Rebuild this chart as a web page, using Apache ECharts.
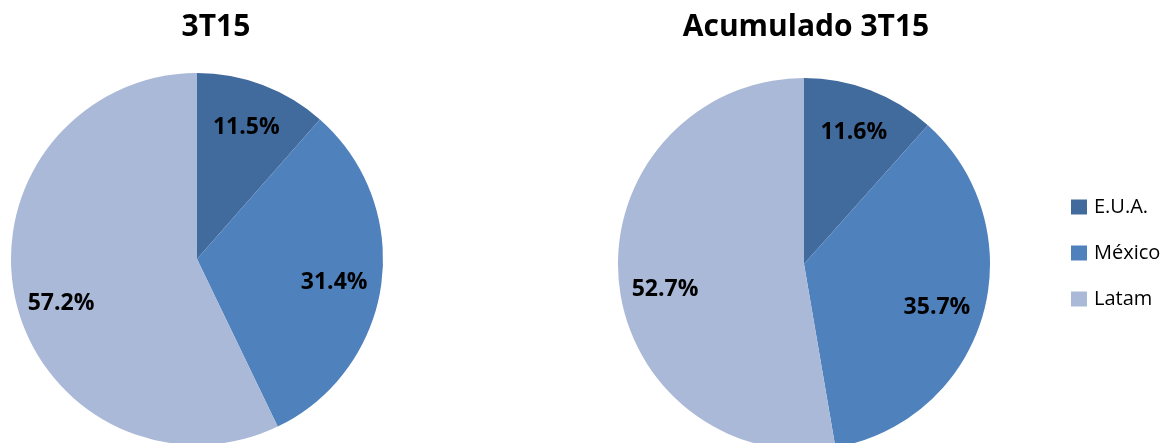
<!DOCTYPE html>
<html>
<head>
<meta charset="utf-8">
<script src="https://cdn.jsdelivr.net/npm/echarts@6/dist/echarts.min.js"></script>
<style>
html,body{margin:0;padding:0;background:#fff;}
#chart{width:1172px;height:443px;}
</style>
</head>
<body>
<div id="chart"></div>
<script>
const categories = ['E.U.A.', 'México', 'Latam'];
const values3T15 = [11.5, 31.4, 57.2];
const valuesAcum = [11.6, 35.7, 52.7];
const titles = ['3T15', 'Acumulado 3T15'];
const colors = ['#416A9D', '#4F81BD', '#AAB9D7'];

// label nudges (style only) to mimic the original's best-fit placement
const labelNudges = [[-1, 2], [-4, 4], [3, 13]];

const FONT = '"Open Sans", Lato, sans-serif';
const R = 186;

function mkData(vals, withLabel) {
  return categories.map((c, i) => {
    const d = { name: c, value: vals[i] };
    if (withLabel) d.label = { offset: labelNudges[i] };
    return d;
  });
}
function pieSeries(vals, cx, cy) {
  return [{
    type: 'pie',
    center: [cx, cy],
    radius: [0, R],
    startAngle: 90,
    clockwise: true,
    data: mkData(vals, false),
    label: { show: false },
    labelLine: { show: false },
    itemStyle: { borderWidth: 0 },
    emphasis: { disabled: true },
    silent: true
  }, {
    type: 'pie',
    center: [cx, cy],
    radius: [R * 0.5, R],
    startAngle: 90,
    clockwise: true,
    data: mkData(vals, true),
    itemStyle: { color: 'rgba(0,0,0,0)' },
    label: {
      show: true,
      position: 'inside',
      formatter: p => p.value.toFixed(1) + '%',
      color: '#000',
      fontFamily: FONT,
      fontWeight: 'bold',
      fontSize: 23
    },
    labelLine: { show: false },
    emphasis: { disabled: true },
    silent: true,
    legendHoverLink: false
  }];
}

const chart = echarts.init(document.getElementById('chart'), null, { renderer: 'canvas' });
chart.setOption({
  animation: false,
  color: colors,
  title: [
    { text: titles[0], left: 211, top: 7, textAlign: 'center',
      textStyle: { fontFamily: FONT, fontWeight: 'bold', fontSize: 30, color: '#000' } },
    { text: titles[1], left: 801, top: 7, textAlign: 'center',
      textStyle: { fontFamily: FONT, fontWeight: 'bold', fontSize: 30, color: '#000' } }
  ],
  legend: {
    orient: 'vertical',
    left: 1066,
    top: 192,
    itemWidth: 16,
    itemHeight: 15,
    itemGap: 26,
    icon: 'rect',
    data: categories,
    selectedMode: false,
    textStyle: { fontFamily: FONT, fontSize: 20, color: '#000', padding: [0, 0, 0, 2] }
  },
  series: [
    ...pieSeries(values3T15, 197, 259),
    ...pieSeries(valuesAcum, 804, 264)
  ]
});
</script>
</body>
</html>
